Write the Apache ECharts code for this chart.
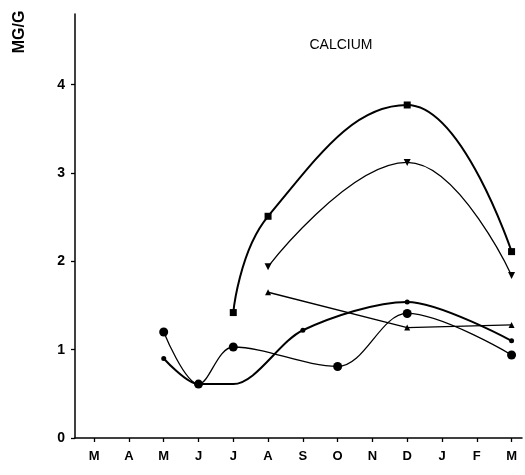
<!DOCTYPE html>
<html><head><meta charset="utf-8">
<script src="https://cdn.jsdelivr.net/npm/echarts@6/dist/echarts.min.js"></script>
<style>html,body{margin:0;padding:0;background:#fff}#c{width:525px;height:475px}</style>
</head><body><div id="c"></div>
<script>
const months = ['M','A','M','J','J','A','S','O','N','D','J','F','M'];
const yTicks = [0,1,2,3,4];
const squares  = [null,null,null,null,1.42,2.51,null,null,null,3.77,null,null,2.11];
const invTri   = [null,null,null,null,null,1.94,null,null,null,3.12,null,null,1.84];
const upTri    = [null,null,null,null,null,1.65,null,null,null,1.25,null,null,1.28];
const circles  = [null,null,1.20,0.61,1.03,null,null,0.81,null,1.41,null,null,0.94];
const dots     = [null,null,0.90,0.61,0.61,null,1.22,null,null,1.54,null,null,1.10];
const hiddenDots = [4]; // point without visible marker

function pts(arr, hidden){
  const out=[];
  arr.forEach((v,i)=>{ if(v!==null){
    const d={value:[i,v]};
    if(hidden && hidden.includes(i)) d.symbolSize=0;
    out.push(d);
  }});
  return out;
}
const chart = echarts.init(document.getElementById('c'), null, {renderer:'canvas'});
const font = 'Liberation Sans';
function line(name, data, opt){
  return Object.assign({
    name, type:'line', data, smooth:0.45,
    lineStyle:{color:'#000', width:1.3},
    itemStyle:{color:'#000'},
    symbol:'circle', symbolSize:6, showAllSymbol:true, z:3
  }, opt);
}
chart.setOption({
  animation:false,
  backgroundColor:'#fff',
  grid:{left:75, right:3, top:14, bottom:37},
  xAxis:{
    type:'value', min:-0.55, max:12.3,
    splitLine:{show:false},
    axisLine:{show:true, onZero:false, lineStyle:{color:'#000', width:1.5}},
    axisTick:{show:true, length:4, customValues:months.map((m,i)=>i), lineStyle:{color:'#000', width:1.3}},
    axisLabel:{customValues:months.map((m,i)=>i), formatter:v=>months[Math.round(v)], color:'#000',
      fontFamily:font, fontSize:13, fontWeight:'bold', margin:12}
  },
  yAxis:{
    type:'value', min:0, max:4.8,
    splitLine:{show:false},
    axisLine:{show:true, onZero:false, lineStyle:{color:'#000', width:1.5}},
    axisTick:{show:true, length:4, customValues:yTicks, lineStyle:{color:'#000', width:1.3}},
    axisLabel:{customValues:yTicks, color:'#000', fontFamily:font, fontSize:14, fontWeight:'bold', margin:10}
  },
  graphic:[
    {type:'text', x:20, y:32, rotation:Math.PI/2,
      style:{text:'MG/G', font:'bold 16px "Liberation Sans"', fill:'#000', align:'center', verticalAlign:'middle'}},
    {type:'text', x:341, y:45,
      style:{text:'CALCIUM', font:'14px "Liberation Sans"', fill:'#000', align:'center', verticalAlign:'middle'}}
  ],
  series:[
    line('squares', pts(squares), {symbol:'rect', symbolSize:7, lineStyle:{color:'#000', width:2}}),
    line('invTri', pts(invTri), {symbol:'triangle', symbolRotate:180, symbolSize:7}),
    line('upTri', pts(upTri), {symbol:'triangle', symbolSize:6, smooth:false}),
    line('circles', pts(circles), {symbol:'circle', symbolSize:9, smooth:0.35}),
    line('dots', pts(dots, hiddenDots), {symbol:'circle', symbolSize:5, smooth:0.3, lineStyle:{color:'#000', width:2}})
  ]
});
</script></body></html>
